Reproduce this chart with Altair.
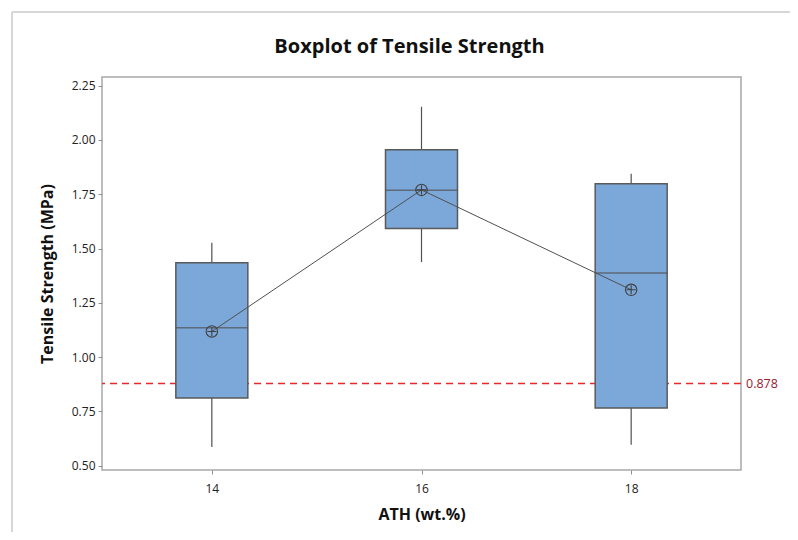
import altair as alt
import pandas as pd

ath = [14, 16, 18]
whisker_low = [0.586, 1.438, 0.596]
q1 = [0.812, 1.592, 0.765]
median = [1.135, 1.768, 1.387]
q3 = [1.434, 1.955, 1.798]
whisker_high = [1.527, 2.153, 1.844]
mean = [1.118, 1.77, 1.31]
ref_value = 0.878
title_text = "Boxplot of Tensile Strength"

df = pd.DataFrame({
    "ath": ath, "lo": whisker_low, "q1": q1, "med": median,
    "q3": q3, "hi": whisker_high, "mean": mean,
})
ref = pd.DataFrame({"y": [ref_value], "label": [f"{ref_value:.3f}"]})
title_df = pd.DataFrame({"t": [title_text]})

W, H = 639, 393
FONT = "Open Sans"

xs = alt.Scale(domain=[13, 19], nice=False, zero=False)
ys = alt.Scale(domain=[0.48, 2.29], nice=False, zero=False)

x_enc = alt.X("ath:Q", scale=xs, title="ATH (wt.%)",
              axis=alt.Axis(values=[14, 16, 18], format="d", grid=False))
y_axis = alt.Axis(values=[0.5, 0.75, 1.0, 1.25, 1.5, 1.75, 2.0, 2.25],
                  format=".2f", grid=False)

base = alt.Chart(df)

whisk = base.mark_rule(color="#505050", strokeWidth=1.2).encode(
    x=x_enc,
    y=alt.Y("lo:Q", scale=ys, title="Tensile Strength (MPa)", axis=y_axis),
    y2="hi:Q",
)
box = base.mark_bar(size=72, fill="#7BA7D9", stroke="#5a5a5a", strokeWidth=1.5).encode(
    x="ath:Q", y="q1:Q", y2="q3:Q",
)
med = base.mark_tick(orient="horizontal", size=72, thickness=1.5, color="#505050").encode(
    x="ath:Q", y="med:Q",
)
mline = base.mark_line(color="#505050", strokeWidth=1).encode(
    x="ath:Q", y="mean:Q",
)
sym = ("M -1 0 A 1 1 0 1 0 1 0 A 1 1 0 1 0 -1 0 Z "
       "M -0.8 0 L 0.8 0 M 0 -0.8 L 0 0.8")
mpt = base.mark_point(shape=sym, size=130, filled=False, color="#404040",
                      strokeWidth=1.1, opacity=1).encode(
    x="ath:Q", y="mean:Q",
)

refline = alt.Chart(ref).mark_rule(color="#e8282a", strokeDash=[7, 5], strokeWidth=1.5).encode(
    y=alt.Y("y:Q", scale=ys),
)
reftext = alt.Chart(ref).mark_text(align="left", baseline="middle", dx=0, fontSize=12.5,
                                   font=FONT, color="#9a2030").encode(
    x=alt.value(W + 5), y=alt.Y("y:Q", scale=ys), text="label:N",
)

title_mark = alt.Chart(title_df).mark_text(
    align="center", baseline="middle", fontSize=20, font=FONT,
    fontWeight="bold", color="#111111",
).encode(x=alt.value(W / 2 - 12), y=alt.value(-30), text="t:N")

frame_df = pd.DataFrame({"a": [0]})
top_border = alt.Chart(frame_df).mark_rule(color="#d6d6d6", strokeWidth=2).encode(
    x=alt.value(-90), x2=alt.value(W + 60), y=alt.value(-65),
)
left_border = alt.Chart(frame_df).mark_rule(color="#d6d6d6", strokeWidth=2).encode(
    x=alt.value(-90), y=alt.value(-65), y2=alt.value(H + 70),
)

chart = alt.layer(
    top_border, left_border, refline, whisk, box, med, mline, mpt, reftext, title_mark
).properties(
    width=W, height=H,
    autosize=alt.AutoSizeParams(type="none"),
    padding={"left": 94, "top": 69, "right": 49, "bottom": 62},
).configure_view(
    stroke="#a8a8a8", strokeWidth=1.5,
).configure_axis(
    domain=False, ticks=True, tickColor="#909090", tickSize=4,
    labelFont=FONT, labelFontSize=12, labelColor="#222222",
    titleFont=FONT, titleFontSize=16, titleFontWeight="bold", titleColor="#111111",
).configure_axisY(
    labelPadding=3, titlePadding=16,
).configure_axisX(
    labelPadding=9, titlePadding=12,
)

chart.save("out.html", embed_options={"renderer": "svg", "actions": False})
